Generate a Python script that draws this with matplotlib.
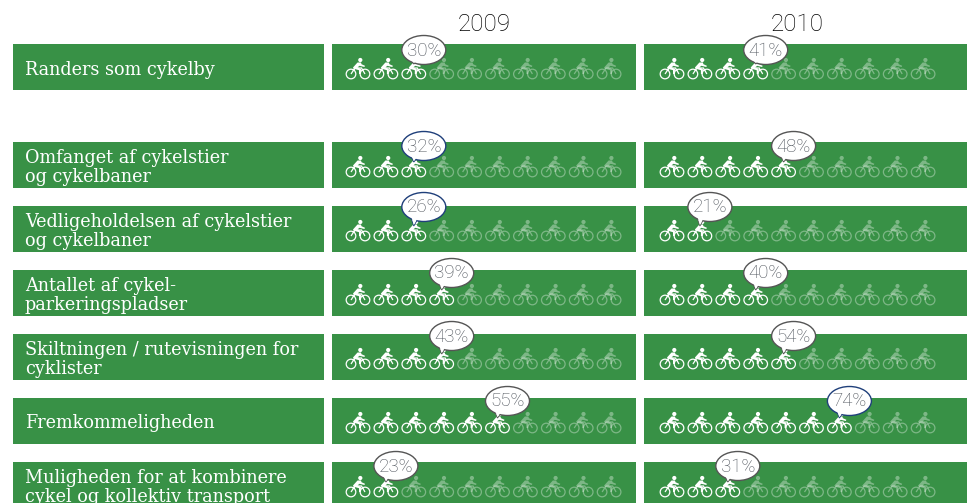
import matplotlib
matplotlib.use('Agg')
import matplotlib.pyplot as plt
from matplotlib.path import Path
from matplotlib.patches import PathPatch, Rectangle, Ellipse, Polygon
from matplotlib.transforms import Affine2D

labels = ['Randers som cykelby',
          'Omfanget af cykelstier\nog cykelbaner',
          'Vedligeholdelsen af cykelstier\nog cykelbaner',
          'Antallet af cykel-\nparkeringspladser',
          'Skiltningen / rutevisningen for\ncyklister',
          'Fremkommeligheden',
          'Muligheden for at kombinere\ncykel og kollektiv transport']
years = ['2009', '2010']
values_2009 = [30, 32, 26, 39, 43, 55, 23]
values_2010 = [41, 48, 21, 40, 54, 74, 31]

# layout in reference pixels
W, H = 967, 503
ROW_TOPS = [44, 142, 206, 270, 334, 398, 462]
BUBBLE_DY = [6, 4, 1, 3, 2, 3, 4]
ROW_H = 46
LABEL_X = (13, 324)
PANELS = [(332, 636, 358), (644, 967, 672)]  # left, right, first bike centre
YEAR_X = [484, 797]
BIKE_STEP = 27.9
GREEN = '#389146'
SLAB = 'DejaVu Serif'


def bike_paths():
    wheels = [Path.circle((cx, 0), 4.8) for cx in (-7, 7)]
    frame = Path([(-7, 0), (-3, -6), (3.5, -6), (7, 0)],
                 [Path.MOVETO, Path.LINETO, Path.LINETO, Path.LINETO])
    stroke = Path.make_compound_path(*wheels, frame)
    body = Path([(-5, -6.5), (-0.5, -11.5), (3, -11.5), (3.5, -9.8), (7, -8.2), (6.4, -7),
                 (1.5, -8.2), (-0.5, -6.6), (3, -5), (2.8, 0), (1, 0), (1, -3.8),
                 (-4.5, -5.3)],
                [Path.MOVETO] + [Path.LINETO] * 12)
    head = Path.circle((2.3, -14), 2.1)
    return stroke, Path.make_compound_path(body, head)


def draw_bike(ax, x, y, color, alpha):
    stroke, solid = bike_paths()
    tr = Affine2D().translate(x, y) + ax.transData
    ax.add_patch(PathPatch(stroke, fc='none', ec=color, lw=0.9, alpha=alpha, transform=tr))
    ax.add_patch(PathPatch(solid, fc=color, ec='none', alpha=alpha, transform=tr))


def draw_bubble(ax, x, y, tip_x, tip_y, value, edge):
    ax.add_patch(Polygon([(tip_x - 3, y + 10), (tip_x + 5, y + 10), (tip_x, tip_y)],
                         fc='white', ec=edge, lw=0.7, zorder=5))
    ax.add_patch(Ellipse((x, y), 44, 29, fc='white', ec=edge, lw=1.0, zorder=6))
    ax.add_patch(Polygon([(tip_x - 2.4, y + 10), (tip_x + 4.4, y + 10), (tip_x, tip_y - 1)],
                         fc='white', ec='none', zorder=7))
    ax.text(x, y + 0.5, f'{value}%', ha='center', va='center', fontsize=13.5,
            family='Roboto', fontweight='light', color='#4a5058', zorder=8)


fig = plt.figure(figsize=(W / 100, H / 100), dpi=100)
ax = fig.add_axes([0, 0, 1, 1])
ax.set_xlim(0, W)
ax.set_ylim(H, 0)
ax.axis('off')

for x, year in zip(YEAR_X, years):
    ax.text(x, 24, year, ha='center', va='center', fontsize=17.5,
            family='Roboto', fontweight='light', color='#000000')

for i, label in enumerate(labels):
    top = ROW_TOPS[i]
    box = Rectangle((LABEL_X[0], top), LABEL_X[1] - LABEL_X[0], ROW_H, fc=GREEN, ec='none')
    ax.add_patch(box)
    txt = ax.text(25, top + 25.5, label, ha='left', va='center', color='white',
                  fontsize=12.7, family=SLAB, linespacing=1.12)
    txt.set_clip_path(box)
    for (left, right, first), vals in zip(PANELS, (values_2009, values_2010)):
        ax.add_patch(Rectangle((left, top), right - left, ROW_H, fc=GREEN, ec='none'))
        n_on = int(vals[i] / 10 + 0.5)
        for b in range(10):
            draw_bike(ax, first + b * BIKE_STEP, top + 30, 'white', 1.0 if b < n_on else 0.35)
        last = first + (n_on - 1) * BIKE_STEP
        edge = '#1f3f7a' if vals[i] in (32, 26, 74) else '#555555'
        draw_bubble(ax, last + 10, top + BUBBLE_DY[i], last, top + 20, vals[i], edge)

fig.savefig('out.png', dpi=100)
